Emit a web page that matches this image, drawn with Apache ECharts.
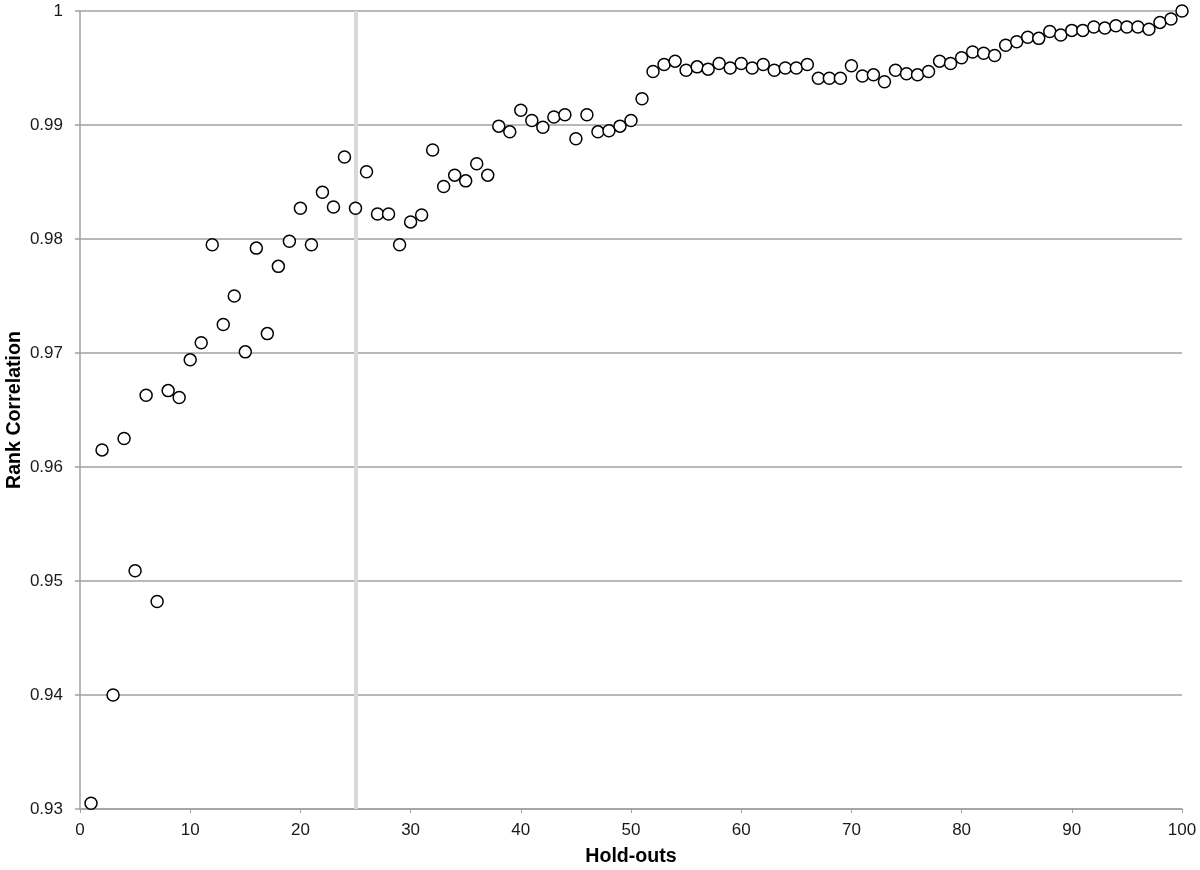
<!DOCTYPE html>
<html>
<head>
<meta charset="utf-8">
<script src="https://cdn.jsdelivr.net/npm/echarts@6/dist/echarts.min.js"></script>
<style>
html,body{margin:0;padding:0;background:#fff;}
#chart{width:1200px;height:870px;}
</style>
</head>
<body>
<div id="chart"></div>
<script>
var holdOuts = [1,2,3,4,5,6,7,8,9,10,11,12,13,14,15,16,17,18,19,20,21,22,23,24,25,26,27,28,29,30,31,32,33,34,35,36,37,38,39,40,41,42,43,44,45,46,47,48,49,50,51,52,53,54,55,56,57,58,59,60,61,62,63,64,65,66,67,68,69,70,71,72,73,74,75,76,77,78,79,80,81,82,83,84,85,86,87,88,89,90,91,92,93,94,95,96,97,98,99,100];
var rankCorrelation = [
0.9305,0.9615,0.9400,0.9625,0.9509,0.9663,0.9482,0.9667,0.9661,0.9694,
0.9709,0.9795,0.9725,0.9750,0.9701,0.9792,0.9717,0.9776,0.9798,0.9827,
0.9795,0.9841,0.9828,0.9872,0.9827,0.9859,0.9822,0.9822,0.9795,0.9815,
0.9821,0.9878,0.9846,0.9856,0.9851,0.9866,0.9856,0.9899,0.9894,0.9913,
0.9904,0.9898,0.9907,0.9909,0.9888,0.9909,0.9894,0.9895,0.9899,0.9904,
0.9923,0.9947,0.9953,0.9956,0.9948,0.9951,0.9949,0.9954,0.9950,0.9954,
0.9950,0.9953,0.9948,0.9950,0.9950,0.9953,0.9941,0.9941,0.9941,0.9952,
0.9943,0.9944,0.9938,0.9948,0.9945,0.9944,0.9947,0.9956,0.9954,0.9959,
0.9964,0.9963,0.9961,0.9970,0.9973,0.9977,0.9976,0.9982,0.9979,0.9983,
0.9983,0.9986,0.9985,0.9987,0.9986,0.9986,0.9984,0.9990,0.9993,1.0000
];
var markerX = 25;
var xTitle = 'Hold-outs';
var yTitle = 'Rank Correlation';

var points = holdOuts.map(function(x, i){ return [x, rankCorrelation[i]]; });
var font = '"Liberation Sans", Arial, sans-serif';
var gray = '#a0a0a0';

var chart = echarts.init(document.getElementById('chart'), null, {renderer:'canvas'});
chart.setOption({
  animation: false,
  backgroundColor: '#fff',
  grid: {left: 80, right: 18, top: 11, bottom: 61, containLabel: false, outerBoundsMode: 'none'},
  xAxis: {
    type: 'value', min: 0, max: 100, interval: 10,
    name: xTitle, nameLocation: 'middle', nameGap: 38, nameMoveOverlap: false,
    nameTextStyle: {fontFamily: font, fontSize: 19.6, fontWeight: 'bold', color: '#000'},
    axisLine: {show: true, onZero: false, lineStyle: {color: gray, width: 1.5}},
    axisTick: {show: true, length: 4, lineStyle: {color: gray, width: 1}},
    axisLabel: {fontFamily: font, fontSize: 17, color: '#1a1a1a', margin: 13},
    splitLine: {show: false}
  },
  yAxis: {
    type: 'value', min: 0.93, max: 1, interval: 0.01,
    name: yTitle, nameLocation: 'middle', nameGap: 55, nameRotate: 90, nameMoveOverlap: false,
    nameTextStyle: {fontFamily: font, fontSize: 19.6, fontWeight: 'bold', color: '#000'},
    axisLine: {show: true, onZero: false, lineStyle: {color: gray, width: 1.5}},
    axisTick: {show: true, length: 5, lineStyle: {color: gray, width: 1.5}},
    axisLabel: {fontFamily: font, fontSize: 17, color: '#1a1a1a', margin: 17,
      formatter: function(v){ return String(parseFloat(v.toFixed(2))); }},
    splitLine: {show: true, lineStyle: {color: gray, width: 1.5}}
  },
  series: [{
    type: 'scatter',
    data: points,
    symbol: 'circle',
    symbolSize: 12,
    clip: false,
    itemStyle: {color: '#fff', borderColor: '#000', borderWidth: 1.5, opacity: 1},
    markLine: {
      silent: true,
      symbol: ['none','none'],
      label: {show: false},
      lineStyle: {color: '#d9d9d9', width: 4, type: 'solid'},
      z: 1,
      data: [{xAxis: markerX}]
    },
    z: 3
  }]
});
</script>
</body>
</html>
